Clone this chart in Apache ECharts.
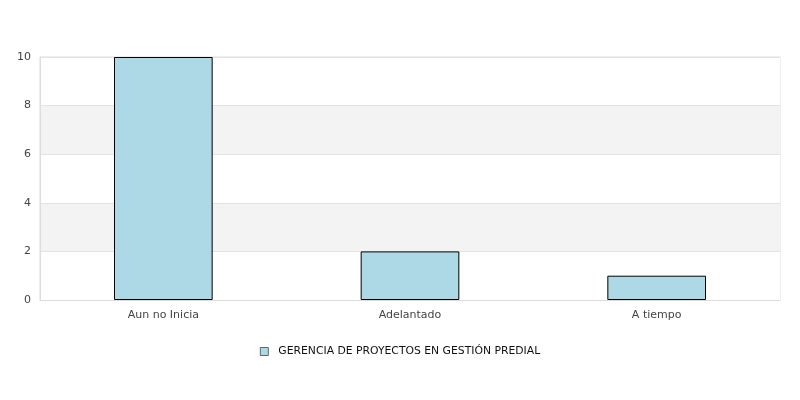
<!DOCTYPE html>
<html><head><meta charset="utf-8">
<script src="https://cdn.jsdelivr.net/npm/echarts@6/dist/echarts.min.js"></script>
<style>html,body{margin:0;padding:0;background:#fff}#c{width:800px;height:400px}</style>
</head><body><div id="c"></div>
<script>
var categories = ['Aun no Inicia', 'Adelantado', 'A tiempo'];
var values = [10, 2, 1];
var seriesName = 'GERENCIA DE PROYECTOS EN GESTIÓN PREDIAL';
var yTicks = {min: 0, max: 10, interval: 2};

var chart = echarts.init(document.getElementById('c'), null, {renderer: 'canvas'});
chart.setOption({
  animation: false,
  textStyle: {fontFamily: 'DejaVu Sans'},
  grid: {left: 40, right: 20, top: 57, bottom: 100, show: true, borderColor: '#dddddd', borderWidth: 1, backgroundColor: 'transparent'},
  legend: {
    top: 341, left: 'center',
    data: [{name: seriesName, icon: 'rect'}],
    itemWidth: 8, itemHeight: 8, itemGap: 10,
    itemStyle: {borderColor: '#666', borderWidth: 1},
    textStyle: {color: '#111', fontSize: 10.8, fontFamily: 'DejaVu Sans', padding: [0, 0, 0, 5]}
  },
  xAxis: {
    type: 'category', data: categories,
    axisLine: {show: true, lineStyle: {color: '#dddddd'}},
    axisTick: {show: false},
    axisLabel: {color: '#444', fontSize: 11, margin: 10},
    splitLine: {show: false}
  },
  yAxis: {
    type: 'value', min: yTicks.min, max: yTicks.max, interval: yTicks.interval,
    axisLine: {show: true, lineStyle: {color: '#dddddd'}},
    axisTick: {show: false},
    axisLabel: {color: '#444', fontSize: 11, margin: 9},
    splitLine: {show: true, lineStyle: {color: '#e3e3e3'}},
    splitArea: {show: true, areaStyle: {color: ['rgba(255,255,255,1)', 'rgba(243,243,243,1)']}}
  },
  series: [{
    name: seriesName, type: 'bar', data: values, barWidth: '40%',
    itemStyle: {color: '#ADD8E6', borderColor: '#000', borderWidth: 1}
  }]
});
</script></body></html>
